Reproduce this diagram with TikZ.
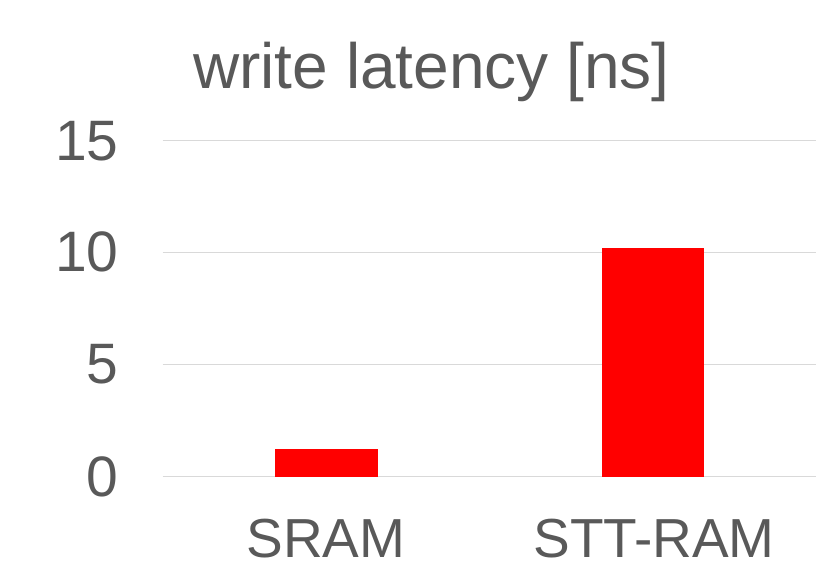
\documentclass[tikz,border=0pt]{standalone}
\usepackage{fontspec}
\setmainfont{Liberation Sans}
\usetikzlibrary{positioning}
\definecolor{labelgray}{HTML}{595959}
\definecolor{gridgray}{HTML}{D9D9D9}

\begin{document}
\begin{tikzpicture}[x=1pt,y=-1pt,text=labelgray]
  \tikzstyle{every node}=[inner sep=0pt,outer sep=0pt]
  \tikzstyle{titlelabel}=[anchor=base,font=\fontsize{64}{70}\selectfont]
  \tikzstyle{ticklabel}=[anchor=east,font=\fontsize{57}{62}\selectfont]
  \tikzstyle{catlabel}=[anchor=base,font=\fontsize{55}{60}\selectfont]
  \tikzstyle{gridline}=[draw=gridgray,line width=1.5pt]
  \tikzstyle{bar}=[fill=red,draw=none]

  \useasboundingbox (0,0) rectangle (816,567);

  % title
  \node[titlelabel] (title) at (431.5,89) {write latency [ns]};

  % value axis
  \node[ticklabel] (y0)  at (118.5,476.7) {0};
  \node[ticklabel] (y5)  at (118.5,364.3) {5};
  \node[ticklabel] (y10) at (118.5,252.3) {10};
  \node[ticklabel] (y15) at (118.5,140.7) {15};
  \foreach \y in {476.7,364.3,252.3,140.7}
    \draw[gridline] (162.7,\y) -- (816,\y);

  % bars
  \path[bar] (275,476.7) rectangle (377.7,449.3);
  \path[bar] (602.3,476.7) rectangle (704.3,247.7);

  % categories
  \node[catlabel] (sram) at (326,557.5) {SRAM};
  \node[catlabel] (stt)  at (654,557.5) {STT-RAM};
\end{tikzpicture}
\end{document}
